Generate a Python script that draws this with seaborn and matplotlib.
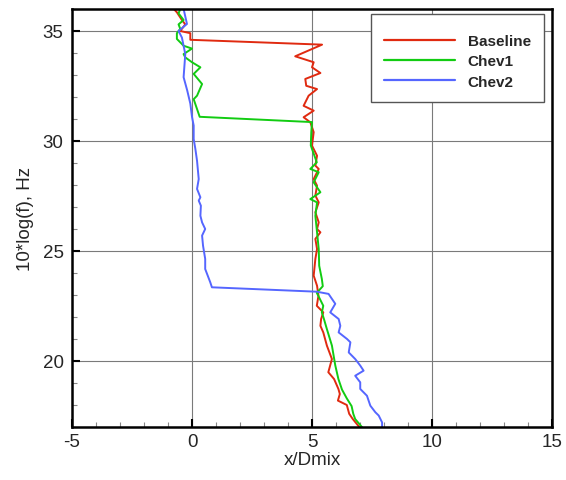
import numpy as np
import pandas as pd
import matplotlib
matplotlib.use("Agg")
import matplotlib.pyplot as plt
from matplotlib.ticker import MultipleLocator
import seaborn as sns

# Veriler (alttan üste)
base_y = [17.0, 17.36, 17.6, 18.0, 18.2, 18.5, 18.73, 19.18, 19.49, 20.09, 20.7, 21.3,
          21.6, 21.91, 22.21, 22.51, 22.97, 23.42, 23.88, 24.64, 25.09, 25.55, 25.85,
          26.0, 26.3, 26.76, 27.21, 27.52, 27.97, 28.27, 28.73, 28.88, 29.33, 29.79,
          30.40, 30.85, 31.08, 31.38, 31.6, 32.06, 32.36, 32.51, 32.82, 33.09, 33.35,
          33.58, 33.85, 34.38, 34.6, 34.9, 35.0, 35.3, 35.5, 35.85, 36.0]
base_x = [6.97, 6.7, 6.55, 6.45, 6.08, 6.16, 6.1, 5.92, 5.68, 5.83, 5.62, 5.47,
          5.35, 5.38, 5.47, 5.2, 5.27, 5.21, 5.07, 5.14, 5.21, 5.14, 5.35,
          5.21, 5.28, 5.14, 5.28, 5.14, 5.21, 5.07, 5.28, 5.14, 5.21, 5.0,
          5.07, 4.93, 4.65, 5.07, 4.65, 4.86, 5.21, 4.76, 4.72, 5.35, 5.0,
          5.07, 4.30, 5.42, -0.07, -0.07, -0.49, -0.28, -0.42, -0.63, -0.76]

chev1_y = [17.0, 17.36, 17.6, 17.95, 18.3, 18.7, 19.18, 19.8, 20.7, 21.45, 21.9, 22.21,
           22.51, 23.1, 23.4, 23.73, 24.33, 25.09, 25.85, 26.6, 27.21, 27.36, 27.67,
           28.12, 28.58, 28.73, 29.03, 29.64, 29.8, 30.4, 30.86, 31.1, 31.9, 32.06,
           32.59, 33.05, 33.35, 33.58, 33.8, 33.95, 34.2, 34.33, 34.64, 34.9, 35.1,
           35.3, 35.5, 35.8, 36.0]
chev1_x = [7.08, 6.8, 6.72, 6.65, 6.45, 6.25, 6.1, 5.97, 5.83, 5.62, 5.5, 5.41,
           5.47, 5.2, 5.45, 5.41, 5.3, 5.28, 5.21, 5.14, 5.21, 4.93, 5.35,
           5.07, 5.28, 4.93, 5.2, 5.0, 4.95, 4.97, 5.0, 0.32, 0.07, 0.21,
           0.42, 0.07, 0.35, 0.0, -0.28, -0.35, 0.0, -0.35, -0.63, -0.63, -0.49,
           -0.56, -0.35, -0.56, -0.49]

chev2_y = [17.0, 17.21, 17.52, 17.67, 17.97, 18.42, 18.73, 19.03, 19.33, 19.56, 19.79,
           20.09, 20.39, 20.85, 21.0, 21.3, 21.6, 21.91, 22.21, 22.6, 23.05, 23.15,
           23.35, 23.58, 24.18, 24.64, 25.24, 25.7, 26.0, 26.3, 26.6, 27.06, 27.29,
           27.44, 27.82, 28.27, 29.1, 29.64, 30.09, 30.7, 31.1, 31.7, 32.3, 32.9,
           33.95, 34.7, 35.0, 35.32, 36.0]
chev2_x = [7.92, 7.92, 7.78, 7.64, 7.43, 7.29, 7.01, 7.01, 6.8, 7.15, 7.01,
           6.8, 6.53, 6.6, 6.46, 6.11, 6.18, 6.11, 5.76, 5.97, 5.69, 5.2,
           0.83, 0.76, 0.55, 0.55, 0.46, 0.42, 0.55, 0.42, 0.35, 0.37, 0.28,
           0.35, 0.21, 0.28, 0.21, 0.14, 0.07, 0.07, 0.0, -0.07, -0.2, -0.35,
           -0.28, -0.42, -0.56, -0.21, -0.35]

series = ["Baseline", "Chev1", "Chev2"]
renkler = {"Baseline": "#e02a10", "Chev1": "#12cc12", "Chev2": "#5566ff"}

df = pd.concat([
    pd.DataFrame({"x": base_x, "y": base_y, "seri": "Baseline"}),
    pd.DataFrame({"x": chev1_x, "y": chev1_y, "seri": "Chev1"}),
    pd.DataFrame({"x": chev2_x, "y": chev2_y, "seri": "Chev2"}),
], ignore_index=True)

sns.set_theme(style="white")
plt.rcParams['font.family'] = ['Liberation Sans', 'DejaVu Sans']
plt.rcParams['axes.unicode_minus'] = False

fig = plt.figure(figsize=(5.66, 4.81), dpi=100)
ax = fig.add_axes([72 / 566, 53 / 481, 480 / 566, 418 / 481])

sns.lineplot(data=df, x="x", y="y", hue="seri", hue_order=series, palette=renkler,
             sort=False, estimator=None, linewidth=1.4, ax=ax)

ax.set_xlim(-5, 15)
ax.set_ylim(17, 36)
ax.xaxis.set_major_locator(MultipleLocator(5))
ax.xaxis.set_minor_locator(MultipleLocator(1))
ax.yaxis.set_major_locator(MultipleLocator(5))
ax.yaxis.set_minor_locator(MultipleLocator(1))
ax.grid(True, which="major", color="#7a7a7a", linewidth=0.8)
ax.set_axisbelow(True)

for s in ax.spines.values():
    s.set_color("black")
    s.set_linewidth(1.8)

ax.tick_params(which="major", direction="in", length=6, width=1.5, color="black",
               labelsize=13.5, bottom=True, left=True, top=False, right=False)
ax.tick_params(axis="x", which="major", pad=4)
ax.tick_params(axis="y", which="major", pad=6)
ax.tick_params(which="minor", direction="in", length=3.5, width=0.8, color="#888888",
               bottom=True, left=True, top=False, right=False)

ax.set_xlabel("x/Dmix", fontsize=13.5, labelpad=1)
ax.set_ylabel("10*log(f), Hz", fontsize=13.5, labelpad=6)

handles, labels = ax.get_legend_handles_labels()
leg = ax.legend(handles, labels, loc="upper right", bbox_to_anchor=(0.983, 0.989),
                prop={"weight": "bold", "size": 11},
                title=" ", title_fontsize=1,
                frameon=True, fancybox=False, framealpha=1, borderpad=0.85,
                handlelength=4.6, handletextpad=0.85, labelspacing=0.42,
                borderaxespad=0)
leg.get_frame().set_edgecolor("#555555")
leg.get_frame().set_linewidth(1.0)
for line in leg.get_lines():
    line.set_linewidth(1.6)

fig.savefig("out.png", dpi=100)
